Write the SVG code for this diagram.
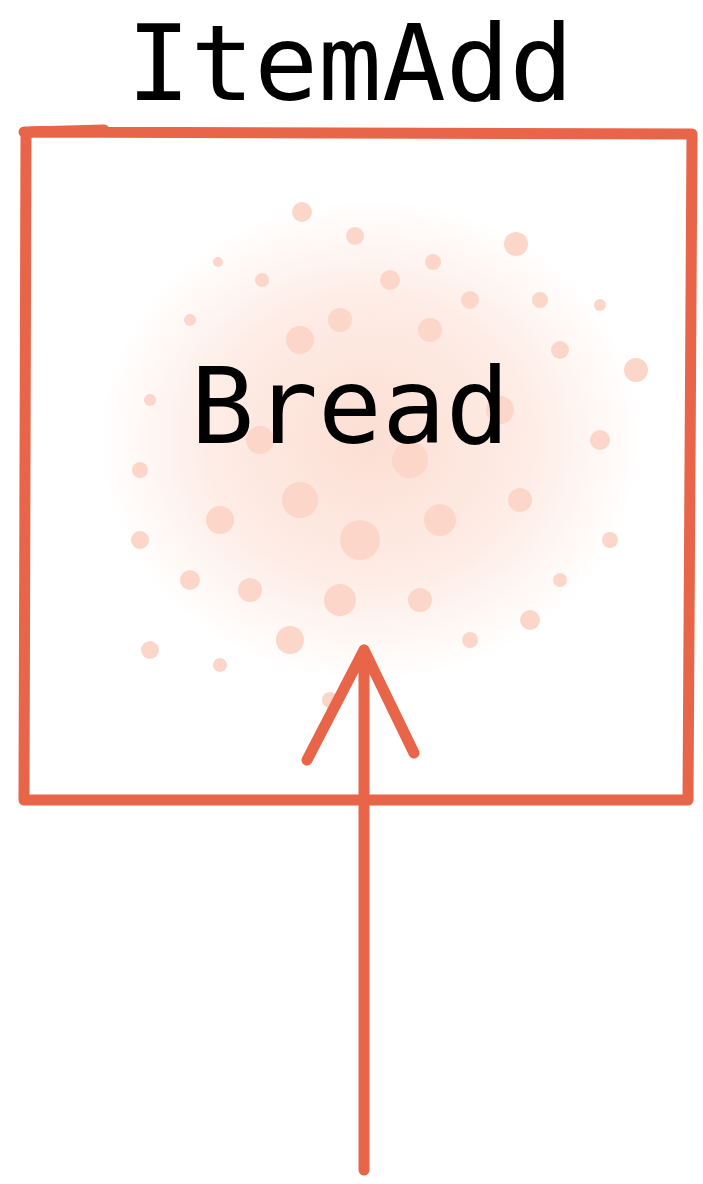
<svg xmlns="http://www.w3.org/2000/svg" width="703" height="1184" viewBox="0 0 703 1184">
<style>
.ln{fill:none;stroke:#e8654a;stroke-width:11;stroke-linecap:round;stroke-linejoin:round}
.t{font-family:"DejaVu Sans Mono",monospace;font-size:106px;fill:#000;text-anchor:middle}
.sp{fill:#fcd6c8}
</style>
<defs>
<radialGradient id="g" cx="0.5" cy="0.5" r="0.5">
<stop offset="0" stop-color="#fcd6c8" stop-opacity="0.8"/>
<stop offset="0.6" stop-color="#fcd6c8" stop-opacity="0.45"/>
<stop offset="1" stop-color="#fcd6c8" stop-opacity="0"/>
</radialGradient>
</defs>
<rect width="703" height="1184" fill="#fff"/>
<g id="title"><text class="t" x="350" y="100">ItemAdd</text></g>
<g id="node-bread">
<ellipse cx="370" cy="440" rx="270" ry="240" fill="url(#g)"/>
<g class="sp">
<circle cx="302" cy="212" r="10"/><circle cx="355" cy="236" r="9"/><circle cx="516" cy="244" r="12"/><circle cx="433" cy="262" r="8"/>
<circle cx="218" cy="262" r="5"/><circle cx="262" cy="280" r="7"/><circle cx="390" cy="280" r="10"/><circle cx="470" cy="300" r="9"/>
<circle cx="540" cy="300" r="8"/><circle cx="600" cy="305" r="6"/><circle cx="636" cy="370" r="12"/><circle cx="190" cy="320" r="6"/>
<circle cx="300" cy="340" r="14"/><circle cx="430" cy="330" r="12"/><circle cx="560" cy="350" r="9"/><circle cx="150" cy="400" r="6"/>
<circle cx="140" cy="470" r="8"/><circle cx="600" cy="440" r="10"/><circle cx="610" cy="540" r="8"/><circle cx="140" cy="540" r="9"/>
<circle cx="220" cy="520" r="14"/><circle cx="300" cy="500" r="18"/><circle cx="360" cy="540" r="20"/><circle cx="440" cy="520" r="16"/>
<circle cx="520" cy="500" r="12"/><circle cx="530" cy="620" r="10"/><circle cx="150" cy="650" r="9"/><circle cx="220" cy="665" r="7"/>
<circle cx="290" cy="640" r="14"/><circle cx="420" cy="600" r="12"/><circle cx="470" cy="640" r="8"/><circle cx="330" cy="700" r="8"/>
<circle cx="250" cy="590" r="12"/><circle cx="340" cy="600" r="16"/><circle cx="190" cy="580" r="10"/><circle cx="560" cy="580" r="7"/>
<circle cx="410" cy="460" r="18"/><circle cx="260" cy="440" r="14"/><circle cx="500" cy="410" r="14"/><circle cx="340" cy="320" r="12"/>
</g>
<text class="t" x="350" y="443">Bread</text>
<path class="ln" d="M30 132 L104 130 M24 132 L692 134 M692 134 L688 800 L24 800 M24 800 L26 134"/>
</g>
<g id="connectors">
<path class="ln" d="M364 1170 L364 650 M307 760 L364 650 L414 753"/>
</g>
</svg>
